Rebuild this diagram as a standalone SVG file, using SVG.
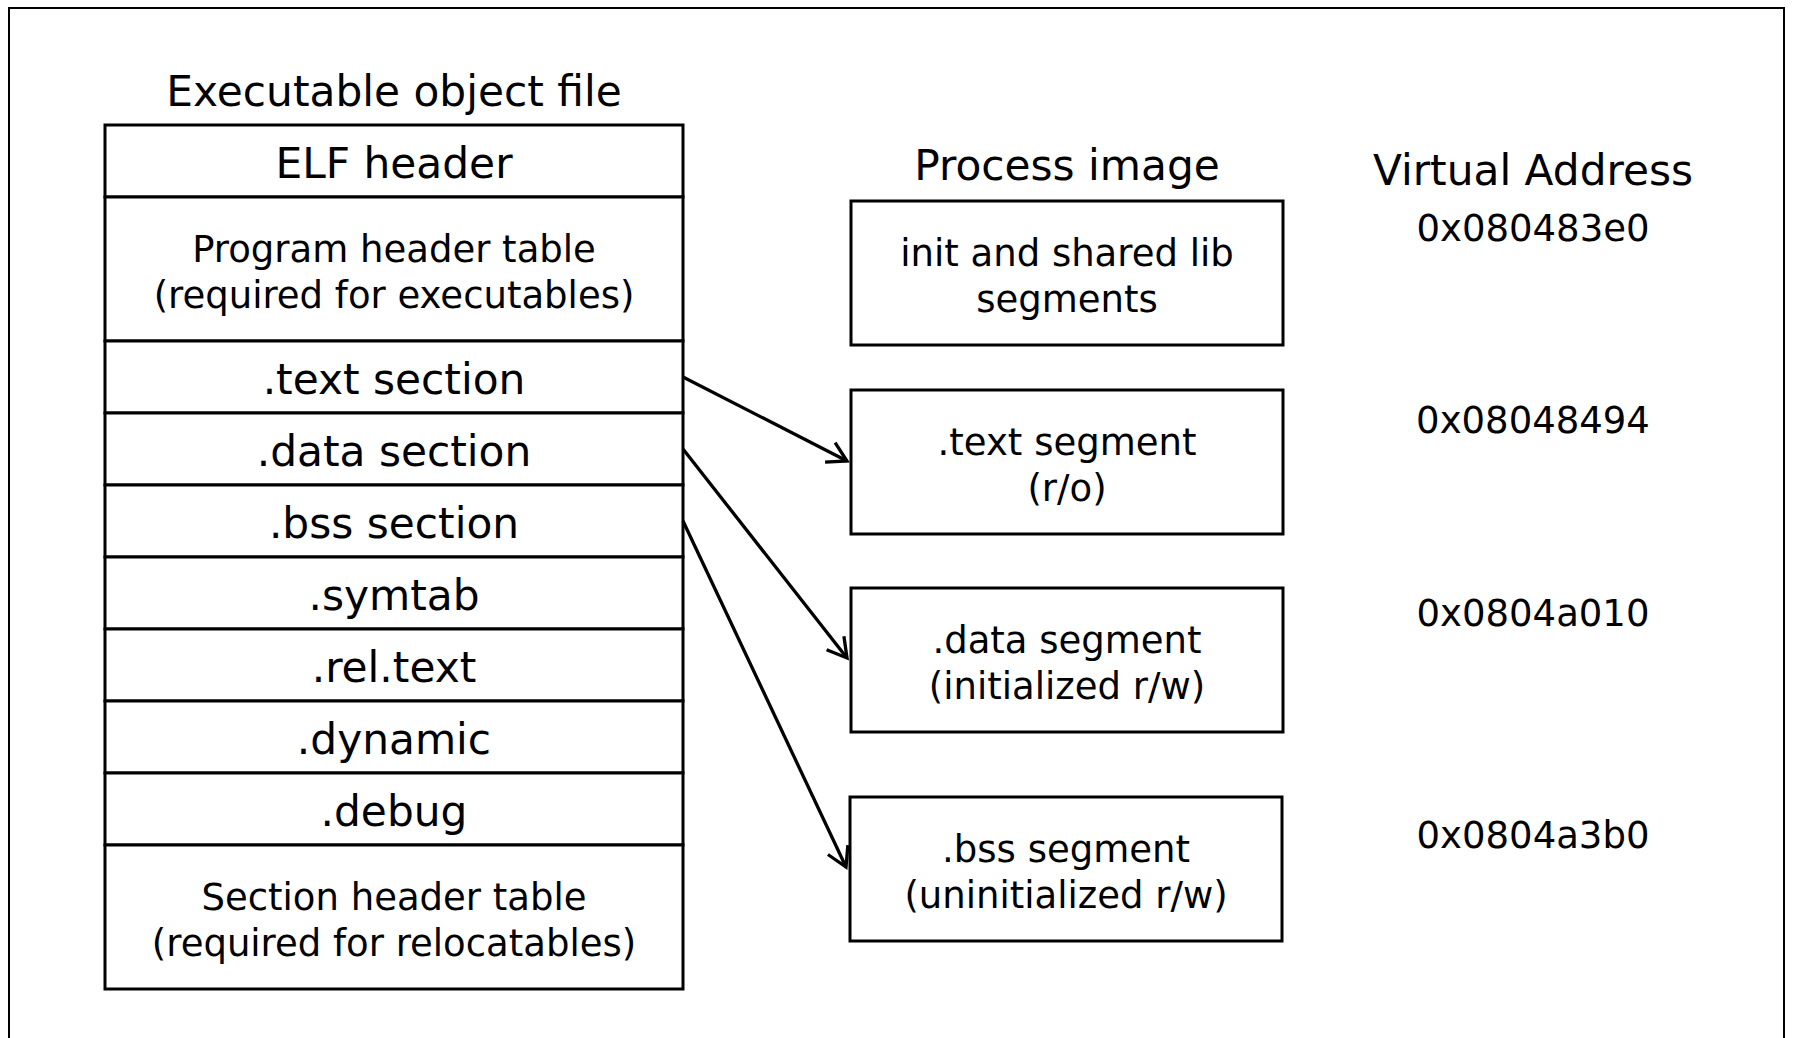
<svg xmlns="http://www.w3.org/2000/svg" width="1793" height="1038" viewBox="0 0 1793 1038">
  <style>
    text { font-family: "DejaVu Sans", Verdana, sans-serif; fill: #000; text-anchor: middle; }
    .lg { font-size: 42.3px; }
    .sm { font-size: 37px; }
    .cell { fill: #fff; stroke: #000; stroke-width: 3; }
    .frame { fill: none; stroke: #000; stroke-width: 2; }
    .link { stroke: #000; stroke-width: 3.3; fill: none; }
  </style>
  <defs>
    <marker id="open-arrow" markerUnits="userSpaceOnUse" markerWidth="30" markerHeight="30" refX="0" refY="0" orient="auto" overflow="visible">
      <path d="M-19,-11 L0,0 L-19,11" fill="none" stroke="#000" stroke-width="3.3" stroke-linejoin="miter"/>
    </marker>
  </defs>

  <rect width="1793" height="1038" fill="#fff"/>
  <!-- outer border, open at the bottom -->
  <path class="frame" d="M9,1040 V8 H1784 V1040"/>

  <!-- executable object file layout -->
  <text class="lg" x="394" y="106">Executable object file</text>
  <g id="elf-header">
    <rect class="cell" x="105" y="125" width="578" height="72"/>
    <text class="lg" x="394" y="178">ELF header</text>
  </g>
  <g id="program-header-table">
    <rect class="cell" x="105" y="197" width="578" height="144"/>
    <text class="sm" x="394" y="262">Program header table</text>
    <text class="sm" x="394" y="308">(required for executables)</text>
  </g>
  <g id="text-section">
    <rect class="cell" x="105" y="341" width="578" height="72"/>
    <text class="lg" x="394" y="394">.text section</text>
  </g>
  <g id="data-section">
    <rect class="cell" x="105" y="413" width="578" height="72"/>
    <text class="lg" x="394" y="466">.data section</text>
  </g>
  <g id="bss-section">
    <rect class="cell" x="105" y="485" width="578" height="72"/>
    <text class="lg" x="394" y="538">.bss section</text>
  </g>
  <g id="symtab">
    <rect class="cell" x="105" y="557" width="578" height="72"/>
    <text class="lg" x="394" y="610">.symtab</text>
  </g>
  <g id="rel-text">
    <rect class="cell" x="105" y="629" width="578" height="72"/>
    <text class="lg" x="394" y="682">.rel.text</text>
  </g>
  <g id="dynamic">
    <rect class="cell" x="105" y="701" width="578" height="72"/>
    <text class="lg" x="394" y="754">.dynamic</text>
  </g>
  <g id="debug">
    <rect class="cell" x="105" y="773" width="578" height="72"/>
    <text class="lg" x="394" y="826">.debug</text>
  </g>
  <g id="section-header-table">
    <rect class="cell" x="105" y="845" width="578" height="144"/>
    <text class="sm" x="394" y="910">Section header table</text>
    <text class="sm" x="394" y="956">(required for relocatables)</text>
  </g>

  <!-- process image segments -->
  <text class="lg" x="1067" y="180">Process image</text>
  <g id="init-segments">
    <rect class="cell" x="851" y="201" width="432" height="144"/>
    <text class="sm" x="1067" y="266">init and shared lib</text>
    <text class="sm" x="1067" y="312">segments</text>
  </g>
  <g id="text-segment">
    <rect class="cell" x="851" y="390" width="432" height="144"/>
    <text class="sm" x="1067" y="455">.text segment</text>
    <text class="sm" x="1067" y="501">(r/o)</text>
  </g>
  <g id="data-segment">
    <rect class="cell" x="851" y="588" width="432" height="144"/>
    <text class="sm" x="1067" y="653">.data segment</text>
    <text class="sm" x="1067" y="699">(initialized r/w)</text>
  </g>
  <g id="bss-segment">
    <rect class="cell" x="850" y="797" width="432" height="144"/>
    <text class="sm" x="1066" y="862">.bss segment</text>
    <text class="sm" x="1066" y="908">(uninitialized r/w)</text>
  </g>

  <!-- virtual addresses -->
  <g id="virtual-address">
    <text class="lg" x="1533" y="185">Virtual Address</text>
    <text class="sm" x="1533" y="241">0x080483e0</text>
    <text class="sm" x="1533" y="433">0x08048494</text>
    <text class="sm" x="1533" y="626">0x0804a010</text>
    <text class="sm" x="1533" y="848">0x0804a3b0</text>
  </g>

  <!-- section to segment mappings -->
  <g id="connectors">
    <line class="link" x1="683" y1="377" x2="847" y2="461" marker-end="url(#open-arrow)"/>
    <line class="link" x1="683" y1="449" x2="847" y2="658" marker-end="url(#open-arrow)"/>
    <line class="link" x1="683" y1="521" x2="846" y2="867" marker-end="url(#open-arrow)"/>
  </g>
</svg>
